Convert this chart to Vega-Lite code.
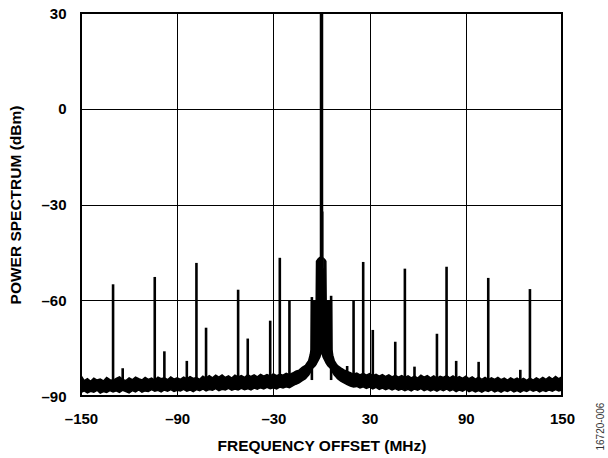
{
  "$schema": "https://vega.github.io/schema/vega-lite/v6.json",
  "width": 481,
  "height": 383,
  "autosize": {"type": "none"},
  "padding": {"left": 81, "top": 13, "right": 46, "bottom": 62},
  "background": "white",
  "title": {
    "text": "16720-006",
    "orient": "right",
    "anchor": "end",
    "angle": -90,
    "align": "left",
    "baseline": "middle",
    "fontSize": 10,
    "font": "Liberation Sans",
    "fontWeight": "normal",
    "color": "#333333",
    "offset": 16,
    "dx": 3
  },
  "config": {
    "view": {"stroke": "black", "strokeWidth": 2},
    "axis": {
      "labelFont": "Liberation Sans",
      "labelFontWeight": "bold",
      "labelFontSize": 15,
      "labelColor": "black",
      "labelFlush": false,
      "labelOverlap": false,
      "titleFont": "Liberation Sans",
      "titleFontWeight": "bold",
      "titleFontSize": 15.5,
      "titleColor": "black",
      "grid": true,
      "gridColor": "black",
      "gridWidth": 1,
      "gridOpacity": 1,
      "domain": false,
      "ticks": false,
      "tickSize": 0,
      "labelPadding": 15
    }
  },
  "datasets": {
    "noise": [
      {"f": -150, "lo": -88.9, "hi": -83.6}, {"f": -148, "lo": -88.4, "hi": -85.2}, {"f": -146, "lo": -89.0, "hi": -84.6},
      {"f": -144, "lo": -88.5, "hi": -85.4}, {"f": -142, "lo": -88.8, "hi": -84.4}, {"f": -140, "lo": -88.2, "hi": -85.0},
      {"f": -138, "lo": -89.1, "hi": -84.7}, {"f": -136, "lo": -88.6, "hi": -85.3}, {"f": -134, "lo": -88.9, "hi": -84.2},
      {"f": -132, "lo": -88.3, "hi": -84.9}, {"f": -130, "lo": -88.7, "hi": -85.1}, {"f": -128, "lo": -88.4, "hi": -84.5},
      {"f": -126, "lo": -88.9, "hi": -84.0}, {"f": -124, "lo": -88.2, "hi": -84.8}, {"f": -122, "lo": -88.6, "hi": -85.2},
      {"f": -120, "lo": -89.0, "hi": -84.3}, {"f": -118, "lo": -88.3, "hi": -84.9}, {"f": -116, "lo": -88.7, "hi": -84.1},
      {"f": -114, "lo": -88.1, "hi": -84.6}, {"f": -112, "lo": -88.8, "hi": -85.0}, {"f": -110, "lo": -88.4, "hi": -84.2},
      {"f": -108, "lo": -88.6, "hi": -84.8}, {"f": -106, "lo": -88.0, "hi": -84.4}, {"f": -104, "lo": -88.5, "hi": -85.0},
      {"f": -102, "lo": -88.2, "hi": -84.1}, {"f": -100, "lo": -88.7, "hi": -84.6}, {"f": -98, "lo": -88.1, "hi": -84.3},
      {"f": -96, "lo": -88.5, "hi": -84.9}, {"f": -94, "lo": -88.0, "hi": -84.0}, {"f": -92, "lo": -88.6, "hi": -84.7},
      {"f": -90, "lo": -88.2, "hi": -84.3}, {"f": -88, "lo": -88.4, "hi": -84.8}, {"f": -86, "lo": -87.9, "hi": -84.1},
      {"f": -84, "lo": -88.5, "hi": -84.6}, {"f": -82, "lo": -88.1, "hi": -83.9}, {"f": -80, "lo": -88.6, "hi": -84.5},
      {"f": -78, "lo": -88.0, "hi": -84.2}, {"f": -76, "lo": -88.3, "hi": -84.8}, {"f": -74, "lo": -87.8, "hi": -83.8},
      {"f": -72, "lo": -88.4, "hi": -84.4}, {"f": -70, "lo": -88.0, "hi": -83.6}, {"f": -68, "lo": -88.2, "hi": -84.3},
      {"f": -66, "lo": -87.7, "hi": -83.5}, {"f": -64, "lo": -88.3, "hi": -84.1}, {"f": -62, "lo": -87.9, "hi": -83.4},
      {"f": -60, "lo": -88.1, "hi": -84.2}, {"f": -58, "lo": -87.6, "hi": -83.7}, {"f": -56, "lo": -88.2, "hi": -84.4},
      {"f": -54, "lo": -87.8, "hi": -83.5}, {"f": -52, "lo": -88.1, "hi": -84.0}, {"f": -50, "lo": -87.6, "hi": -83.6},
      {"f": -48, "lo": -88.0, "hi": -84.2}, {"f": -46, "lo": -87.7, "hi": -83.3}, {"f": -44, "lo": -88.1, "hi": -83.9},
      {"f": -42, "lo": -87.5, "hi": -83.4}, {"f": -40, "lo": -87.9, "hi": -84.0}, {"f": -38, "lo": -87.4, "hi": -83.2},
      {"f": -36, "lo": -87.8, "hi": -83.8}, {"f": -34, "lo": -87.3, "hi": -83.3}, {"f": -32, "lo": -87.7, "hi": -83.7},
      {"f": -30, "lo": -87.4, "hi": -83.1}, {"f": -28, "lo": -87.8, "hi": -83.6}, {"f": -26, "lo": -87.2, "hi": -83.2},
      {"f": -24, "lo": -87.5, "hi": -83.5}, {"f": -22, "lo": -87.1, "hi": -82.9}, {"f": -20, "lo": -87.4, "hi": -83.3},
      {"f": -18, "lo": -86.8, "hi": -82.8}, {"f": -16, "lo": -86.3, "hi": -82.2}, {"f": -14, "lo": -85.9, "hi": -81.9},
      {"f": -12, "lo": -85.2, "hi": -81.0}, {"f": -10, "lo": -84.6, "hi": -80.4}, {"f": -9, "lo": -84.0, "hi": -79.6},
      {"f": -8, "lo": -83.4, "hi": -78.9}, {"f": -7, "lo": -82.6, "hi": -77.0}, {"f": -6.5, "lo": -82.0, "hi": -75.5},
      {"f": -6.2, "lo": -81.6, "hi": -60.5}, {"f": -4, "lo": -80.5, "hi": -60.5}, {"f": -3.3, "lo": -80.0, "hi": -60.0},
      {"f": -3.1, "lo": -79.8, "hi": -47.8}, {"f": -2, "lo": -78.8, "hi": -47.0}, {"f": -1, "lo": -77.8, "hi": -46.6},
      {"f": 0, "lo": -76.0, "hi": -46.4}, {"f": 1, "lo": -77.8, "hi": -46.8}, {"f": 2, "lo": -78.8, "hi": -47.2},
      {"f": 2.7, "lo": -79.5, "hi": -47.8}, {"f": 2.9, "lo": -79.7, "hi": -60.0}, {"f": 4, "lo": -80.5, "hi": -60.5},
      {"f": 6.2, "lo": -81.6, "hi": -60.5}, {"f": 6.5, "lo": -82.0, "hi": -75.5}, {"f": 7, "lo": -82.6, "hi": -77.2},
      {"f": 8, "lo": -83.4, "hi": -79.0}, {"f": 9, "lo": -84.0, "hi": -79.8}, {"f": 10, "lo": -84.6, "hi": -80.5},
      {"f": 12, "lo": -85.3, "hi": -81.2}, {"f": 14, "lo": -85.9, "hi": -81.8}, {"f": 16, "lo": -86.4, "hi": -82.3},
      {"f": 18, "lo": -86.9, "hi": -82.7}, {"f": 20, "lo": -87.2, "hi": -83.2}, {"f": 22, "lo": -87.0, "hi": -82.8},
      {"f": 24, "lo": -87.5, "hi": -83.4}, {"f": 26, "lo": -87.1, "hi": -82.9}, {"f": 28, "lo": -87.6, "hi": -83.5},
      {"f": 30, "lo": -87.2, "hi": -83.0}, {"f": 32, "lo": -87.8, "hi": -83.6}, {"f": 34, "lo": -87.3, "hi": -83.2},
      {"f": 36, "lo": -87.9, "hi": -83.8}, {"f": 38, "lo": -87.5, "hi": -83.3}, {"f": 40, "lo": -88.0, "hi": -83.9},
      {"f": 42, "lo": -87.6, "hi": -83.4}, {"f": 44, "lo": -88.1, "hi": -84.0}, {"f": 46, "lo": -87.7, "hi": -83.5},
      {"f": 48, "lo": -88.2, "hi": -84.1}, {"f": 50, "lo": -87.8, "hi": -83.6}, {"f": 52, "lo": -88.3, "hi": -84.2},
      {"f": 54, "lo": -87.9, "hi": -83.7}, {"f": 56, "lo": -88.4, "hi": -84.3}, {"f": 58, "lo": -87.8, "hi": -83.8},
      {"f": 60, "lo": -88.2, "hi": -84.4}, {"f": 62, "lo": -87.7, "hi": -83.5}, {"f": 64, "lo": -88.3, "hi": -84.1},
      {"f": 66, "lo": -87.9, "hi": -83.6}, {"f": 68, "lo": -88.4, "hi": -84.3}, {"f": 70, "lo": -88.0, "hi": -83.7},
      {"f": 72, "lo": -88.5, "hi": -84.4}, {"f": 74, "lo": -87.9, "hi": -83.8}, {"f": 76, "lo": -88.3, "hi": -84.2},
      {"f": 78, "lo": -87.8, "hi": -83.6}, {"f": 80, "lo": -88.4, "hi": -84.3}, {"f": 82, "lo": -88.0, "hi": -83.7},
      {"f": 84, "lo": -88.6, "hi": -84.4}, {"f": 86, "lo": -88.1, "hi": -83.9}, {"f": 88, "lo": -88.5, "hi": -84.5},
      {"f": 90, "lo": -87.9, "hi": -83.8}, {"f": 92, "lo": -88.6, "hi": -84.6}, {"f": 94, "lo": -88.2, "hi": -84.0},
      {"f": 96, "lo": -88.7, "hi": -84.7}, {"f": 98, "lo": -88.3, "hi": -84.1}, {"f": 100, "lo": -88.8, "hi": -84.8},
      {"f": 102, "lo": -88.2, "hi": -84.2}, {"f": 104, "lo": -88.6, "hi": -84.9}, {"f": 106, "lo": -88.1, "hi": -84.3},
      {"f": 108, "lo": -88.7, "hi": -84.8}, {"f": 110, "lo": -88.3, "hi": -84.2}, {"f": 112, "lo": -88.8, "hi": -84.9},
      {"f": 114, "lo": -88.2, "hi": -84.4}, {"f": 116, "lo": -88.6, "hi": -85.0}, {"f": 118, "lo": -88.1, "hi": -84.3},
      {"f": 120, "lo": -88.7, "hi": -84.9}, {"f": 122, "lo": -88.3, "hi": -84.4}, {"f": 124, "lo": -88.8, "hi": -85.0},
      {"f": 126, "lo": -88.2, "hi": -84.5}, {"f": 128, "lo": -88.6, "hi": -85.1}, {"f": 130, "lo": -88.0, "hi": -84.4},
      {"f": 132, "lo": -88.5, "hi": -85.0}, {"f": 134, "lo": -88.1, "hi": -84.3}, {"f": 136, "lo": -88.7, "hi": -84.9},
      {"f": 138, "lo": -88.2, "hi": -84.2}, {"f": 140, "lo": -88.6, "hi": -84.8}, {"f": 142, "lo": -88.1, "hi": -84.0},
      {"f": 144, "lo": -88.5, "hi": -84.7}, {"f": 146, "lo": -88.0, "hi": -83.9}, {"f": 148, "lo": -88.4, "hi": -84.6},
      {"f": 150, "lo": -88.1, "hi": -84.0}
    ],
    "spurs": [
      {"f": -130, "top": -55.0}, {"f": -124, "top": -81.3}, {"f": -104, "top": -52.7}, {"f": -98, "top": -76.0},
      {"f": -84, "top": -79.0}, {"f": -78, "top": -48.3}, {"f": -72, "top": -68.6}, {"f": -52, "top": -56.7},
      {"f": -46, "top": -72.0}, {"f": -32, "top": -66.4}, {"f": -26, "top": -46.7}, {"f": -20, "top": -60.0},
      {"f": -6, "top": -59.0}, {"f": 6, "top": -58.6}, {"f": 16, "top": -80.6}, {"f": 20, "top": -60.0},
      {"f": 26, "top": -48.0}, {"f": 32, "top": -69.3}, {"f": 46, "top": -73.0}, {"f": 52, "top": -50.1},
      {"f": 58, "top": -80.8}, {"f": 72, "top": -70.5}, {"f": 78, "top": -49.5}, {"f": 84, "top": -79.0},
      {"f": 98, "top": -79.3}, {"f": 104, "top": -53.0}, {"f": 124, "top": -81.8}, {"f": 130, "top": -56.5}
    ],
    "carrier": [
      {"f": 0, "top": 30}
    ],
    "side": [
      {"f": 0.9, "top": -32.2}
    ]
  },
  "encoding": {
    "x": {
      "field": "f",
      "type": "quantitative",
      "scale": {"domain": [-150, 150], "nice": false, "zero": false},
      "axis": {
        "title": "FREQUENCY OFFSET (MHz)",
        "values": [-150, -90, -30, 30, 90, 150],
        "labelExpr": "datum.value < 0 ? '\u2013' + abs(datum.value) : '' + datum.value",
        "titlePadding": 12
      }
    }
  },
  "layer": [
    {
      "data": {"name": "noise"},
      "mark": {"type": "area", "color": "black", "stroke": "black", "strokeWidth": 1.5, "clip": true},
      "encoding": {
        "y": {
          "field": "hi",
          "type": "quantitative",
          "scale": {"domain": [-90, 30], "nice": false, "zero": false},
          "axis": {
            "title": "POWER SPECTRUM (dBm)",
            "values": [-90, -60, -30, 0, 30],
            "labelExpr": "datum.value < 0 ? '\u2013' + abs(datum.value) : '' + datum.value",
            "titlePadding": 17
          }
        },
        "y2": {"field": "lo"}
      }
    },
    {
      "data": {"name": "spurs"},
      "mark": {"type": "rule", "color": "black", "strokeWidth": 2.6},
      "encoding": {
        "y": {"field": "top", "type": "quantitative"},
        "y2": {"datum": -85}
      }
    },
    {
      "data": {"name": "side"},
      "mark": {"type": "rule", "color": "#222222", "strokeWidth": 1.2},
      "encoding": {
        "y": {"field": "top", "type": "quantitative"},
        "y2": {"datum": -50}
      }
    },
    {
      "data": {"name": "carrier"},
      "mark": {"type": "rule", "color": "black", "strokeWidth": 3.5},
      "encoding": {
        "y": {"field": "top", "type": "quantitative"},
        "y2": {"datum": -50}
      }
    }
  ]
}
